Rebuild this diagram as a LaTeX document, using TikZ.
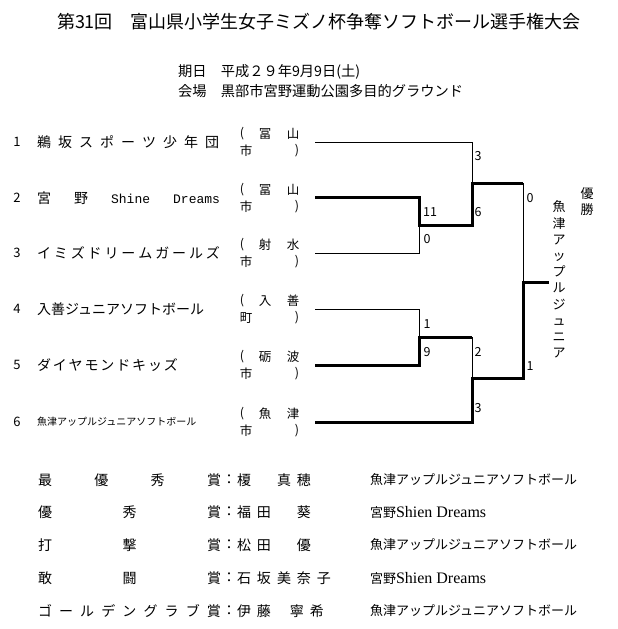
\documentclass[tikz,border=0pt]{standalone}
\usepackage{fontspec}
\newfontfamily\jp{Noto Sans CJK JP}
\newfontfamily\lmono{Liberation Mono}
\newfontfamily\lserif{Liberation Serif}
\newcommand\slotc[1]{\makebox[20pt][l]{#1}}
\begin{document}
\begin{tikzpicture}[x=1pt,y=-1pt,
  thn/.style={line width=0.9pt},
  thk/.style={line width=3pt,line join=miter},
  lbl/.style={inner sep=0pt,outer sep=0pt},
  f18/.style={font=\jp\fontsize{18}{20}\selectfont},
  f15/.style={font=\jp\fontsize{14.25}{17}\selectfont},
  f14/.style={font=\jp\fontsize{14}{16}\selectfont},
  f13/.style={font=\jp\fontsize{13}{15}\selectfont},
  f12/.style={font=\jp\fontsize{12.5}{14}\selectfont},
  f10/.style={font=\jp\fontsize{10}{12}\selectfont},
  sc/.style={lbl,font=\jp\fontsize{12.5}{14}\selectfont}]
\useasboundingbox[fill=white] (0,0) rectangle (618,629);

% title
\node[lbl,f18,anchor=west] (title) at (57,21.5) {第31回　富山県小学生女子ミズノ杯争奪ソフトボール選手権大会};
\node[lbl,f15,anchor=west] (date) at (178,72) {期日　平成２９年9月9日(土)};
\node[lbl,f15,anchor=west] (venue) at (178,91) {会場　黒部市宮野運動公園多目的グラウンド};

% row numbers
\foreach \i/\y in {1/142,2/198,3/253,4/309,5/365,6/422}{
  \node[lbl,f13] (num\i) at (17,\y) {\i};
}

% team names
\node[lbl,f14,anchor=west] (team1) at (37,142) {\hbox to 182pt{鵜\hfill 坂\hfill ス\hfill ポ\hfill ー\hfill ツ\hfill 少\hfill 年\hfill 団}};
\node[lbl,f14,anchor=west] (team2) at (37,198) {\hbox to 183pt{宮\hfill 野\hfill {\lmono\fontsize{13}{15}\selectfont Shine}\hfill {\lmono\fontsize{13}{15}\selectfont Dreams}}};
\node[lbl,f14,anchor=west] (team3) at (37,253) {\hbox to 183pt{イ\hfill ミ\hfill ズ\hfill ド\hfill リ\hfill ー\hfill ム\hfill ガ\hfill ー\hfill ル\hfill ズ}};
\node[lbl,f14,anchor=west] (team4) at (37,309) {入善ジュニアソフトボール};
\node[lbl,f14,anchor=west] (team5) at (37,365) {\hbox to 141pt{ダ\hfill イ\hfill ヤ\hfill モ\hfill ン\hfill ド\hfill キ\hfill ッ\hfill ズ}};
\node[lbl,f10,anchor=west] (team6) at (37,422) {魚津アップルジュニアソフトボール};

% locations
\foreach \i/\y/\a/\b/\c in {1/142/冨/山/市,2/198/冨/山/市,3/253/射/水/市,4/309/入/善/町,5/365/砺/波/市,6/422/魚/津/市}{
  \node[lbl,f12] (lpa\i) at (242,\y-8) {(};
  \node[lbl,f12] (la\i) at (265,\y-8) {\a};
  \node[lbl,f12] (lb\i) at (293,\y-8) {\b};
  \node[lbl,f12] (lc\i) at (246,\y+9) {\c};
  \node[lbl,f12] (lpb\i) at (297,\y+9) {)};
}

% bracket coordinates
\coordinate (s1) at (315,142);
\coordinate (s2) at (315,197);
\coordinate (s3) at (315,253);
\coordinate (s4) at (315,309);
\coordinate (s5) at (315,365);
\coordinate (s6) at (315,422);
\coordinate (e1) at (472,142);
\coordinate (e2) at (419,197);
\coordinate (e3) at (419,253);
\coordinate (e4) at (419,309);
\coordinate (e5) at (419,365);
\coordinate (e6) at (472,422);
\coordinate (m23) at (419,225);
\coordinate (m23r) at (472,225);
\coordinate (m45) at (419,337);
\coordinate (m45r) at (472,337);
\coordinate (sfa) at (472,183);
\coordinate (sfar) at (523,183);
\coordinate (sfb) at (472,378);
\coordinate (sfbr) at (523,378);
\coordinate (fin) at (523,282);
\coordinate (win) at (549,282);

% thin lines
\draw[thn] (s1) -- (e1) -- (sfa);
\draw[thn] (s3) -- (e3) -- (m23);
\draw[thn] (s4) -- (e4) -- (m45);
\draw[thn] (m45r) -- (sfb);
\draw[thn] (sfar) -- (fin);
% thick lines
\draw[thk] (s2) -- (e2) -- (m23) -- (m23r) -- (sfa) -- (sfar);
\draw[thk] (s5) -- (e5) -- (m45) -- (m45r);
\draw[thk] (s6) -- (e6) -- (sfb) -- (sfbr) -- (fin) -- (win);

% scores
\node[sc] (sc1) at (478,156) {3};
\node[sc] (sc2) at (430,212) {11};
\node[sc] (sc3) at (427,239) {0};
\node[sc] (sc4) at (478,212) {6};
\node[sc] (sc5) at (530,198) {0};
\node[sc] (sc6) at (427,324) {1};
\node[sc] (sc7) at (427,352) {9};
\node[sc] (sc8) at (478,352) {2};
\node[sc] (sc9) at (478,408) {3};
\node[sc] (sc10) at (530,366) {1};

% champion
\node[lbl,anchor=north,align=center,font=\jp\fontsize{13}{15.5}\selectfont] (yusho) at (587,188) {優\\勝};
\node[lbl,anchor=north,align=center,font=\jp\fontsize{13}{16.2}\selectfont] (champ) at (559,201) {魚\\津\\ア\\ッ\\プ\\ル\\ジ\\ュ\\ニ\\ア};

% awards
\foreach \i/\y/\lab/\nm/\tm in {
 1/480/{最\hfill 優\hfill 秀\hfill 賞}/{\slotc{榎}\slotc{}\slotc{真}\slotc{穂}}/A,
 2/512/{優\hfill 秀\hfill 賞}/{\slotc{福}\slotc{田}\slotc{}\slotc{葵}}/B,
 3/545/{打\hfill 撃\hfill 賞}/{\slotc{松}\slotc{田}\slotc{}\slotc{優}}/A,
 4/578/{敢\hfill 闘\hfill 賞}/{\slotc{石}\slotc{坂}\slotc{美}\slotc{奈}\slotc{子}}/B,
 5/611/{ゴ\hfill ー\hfill ル\hfill デ\hfill ン\hfill グ\hfill ラ\hfill ブ\hfill 賞}/{\slotc{伊}\slotc{藤}\hspace*{13pt}\slotc{寧}\slotc{希}}/A}{
  \node[lbl,f14,anchor=west] (aw\i) at (38,\y) {\hbox to 183pt{\lab}};
  \node[lbl,f14] (col\i) at (229,\y) {：};
  \node[lbl,f14,anchor=west] (nm\i) at (237,\y) {\nm};
  \if\tm A
    \node[lbl,f13,anchor=west] (tm\i) at (370,\y) {魚津アップルジュニアソフトボール};
  \else
    \node[lbl,f13,anchor=west] (tm\i) at (370,\y) {宮野{\lserif\fontsize{16}{18}\selectfont Shien Dreams}};
  \fi
}
\end{tikzpicture}
\end{document}
